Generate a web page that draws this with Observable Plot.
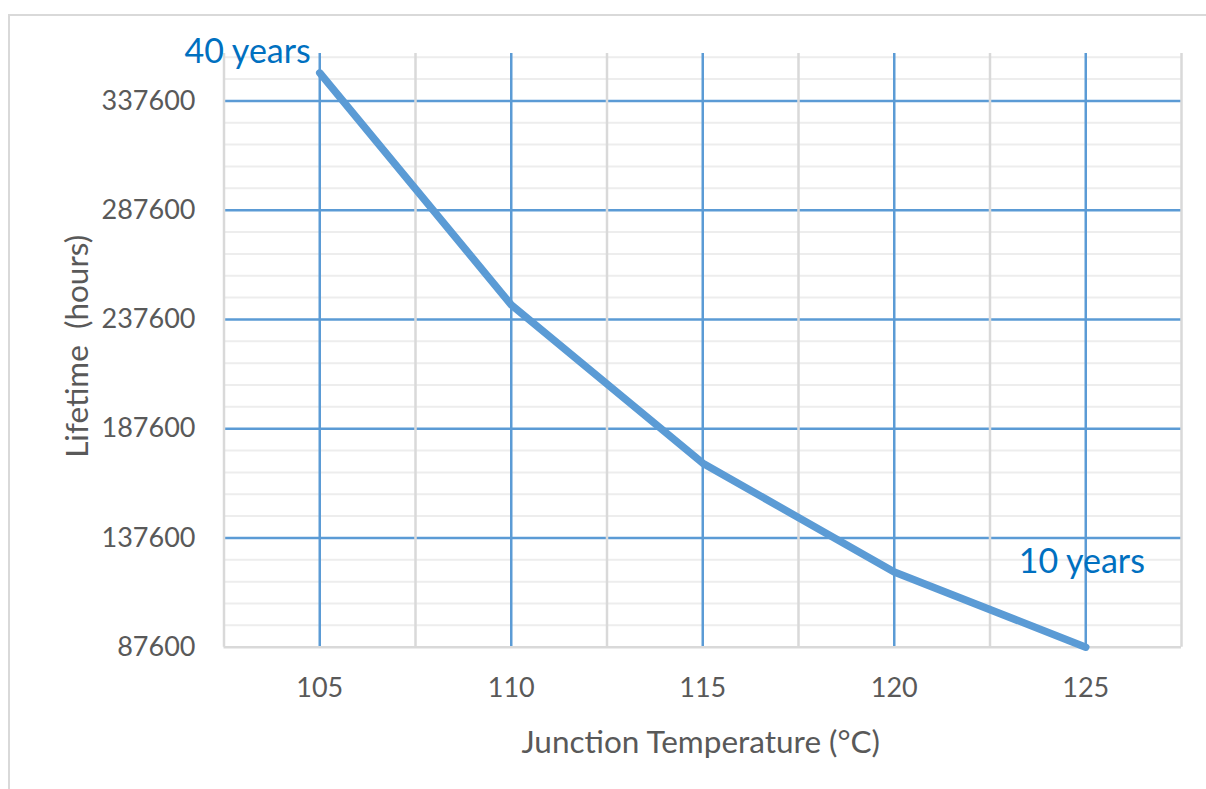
<!DOCTYPE html>
<html>
<head>
<meta charset="utf-8">
<script src="https://cdn.jsdelivr.net/npm/d3@7"></script>
<script src="https://cdn.jsdelivr.net/npm/@observablehq/plot@0.6"></script>
<style>
  html, body { margin: 0; padding: 0; background: #fff; width: 1206px; height: 789px; overflow: hidden; }
  #frame { position: absolute; left: 8px; top: 14px; width: 1210px; height: 800px;
           border-top: 2px solid #d9d9d9; border-left: 2px solid #d9d9d9; pointer-events: none; }
  #chart { position: absolute; left: 0; top: 0; }
</style>
</head>
<body>
<div id="chart"></div>
<div id="frame"></div>
<script>
// Junction temperature (°C) and lifetime (hours)
const temperature = [105, 110, 115, 120, 125];
const lifetime = [350400, 244300, 171800, 122000, 87600];

// Axis ticks
const xTicks = [105, 110, 115, 120, 125];
const xBounds = [102.5, 107.5, 112.5, 117.5, 122.5, 127.5];
const yMajor = [87600, 137600, 187600, 237600, 287600, 337600];
const yMinor = d3.range(97600, 359000, 10000).filter(d => !yMajor.includes(d));

// Annotations
const annoText = ["40 years", "10 years"];
const annoX = [105, 125];
const annoY = [350400, 87600];

const data = temperature.map((t, i) => ({t, h: lifetime[i]}));
const annos = annoText.map((s, i) => ({s, x: annoX[i], y: annoY[i]}));

const font = "Lato, 'Open Sans', sans-serif";

const chart = Plot.plot({
  width: 1206,
  height: 789,
  marginLeft: 223.5,
  marginRight: 25,
  marginTop: 53,
  marginBottom: 142.3,
  style: { fontFamily: font, fontSize: "27px", color: "#595959", background: "transparent" },
  x: { domain: [102.5, 127.5] },
  y: { domain: [87600, 359300] },
  marks: [
    Plot.ruleY(yMinor, { stroke: "#ededed", strokeWidth: 2 }),
    Plot.ruleY(yMajor.filter(d => d > 87600), { stroke: "#5b9bd5", strokeWidth: 2.5 }),
    Plot.ruleX(xBounds, { stroke: "#d9d9d9", strokeWidth: 2.5 }),
    Plot.ruleX(xTicks, { stroke: "#5b9bd5", strokeWidth: 2.5 }),
    Plot.ruleY([87600], { stroke: "#d9d9d9", strokeWidth: 2.5 }),
    Plot.axisX({ ticks: xTicks, tickSize: 0, tickPadding: 31, label: null, tickFormat: d => String(d), fill: "#595959" }),
    Plot.axisY({ ticks: yMajor, tickSize: 0, tickPadding: 28.5, label: null, tickFormat: d => String(d), fill: "#595959" }),
    Plot.lineY(data, { x: "t", y: "h", stroke: "#5b9bd5", strokeWidth: 7.5, strokeLinecap: "round", strokeLinejoin: "round" }),
    Plot.text(annos.slice(0, 1), { x: "x", y: "y", text: "s", textAnchor: "end", lineAnchor: "bottom", dx: -9, dy: -10, fill: "#0070c0", fontSize: 34, fontFamily: font }),
    Plot.text(annos.slice(1), { x: "x", y: "y", text: "s", textAnchor: "middle", lineAnchor: "bottom", dx: -4, dy: -74, fill: "#0070c0", fontSize: 34, fontFamily: font }),
    Plot.text(["Junction Temperature (°C)"], { frameAnchor: "bottom", lineAnchor: "bottom", dy: 106, dx: -2, fill: "#595959", fontSize: 31.5, fontFamily: font }),
    Plot.text(["Lifetime\u00a0 (hours)"], { frameAnchor: "left", textAnchor: "middle", rotate: -90, dx: -146, dy: -4, fill: "#595959", fontSize: 31.5, fontFamily: font })
  ]
});
document.getElementById("chart").appendChild(chart);
</script>
</body>
</html>
